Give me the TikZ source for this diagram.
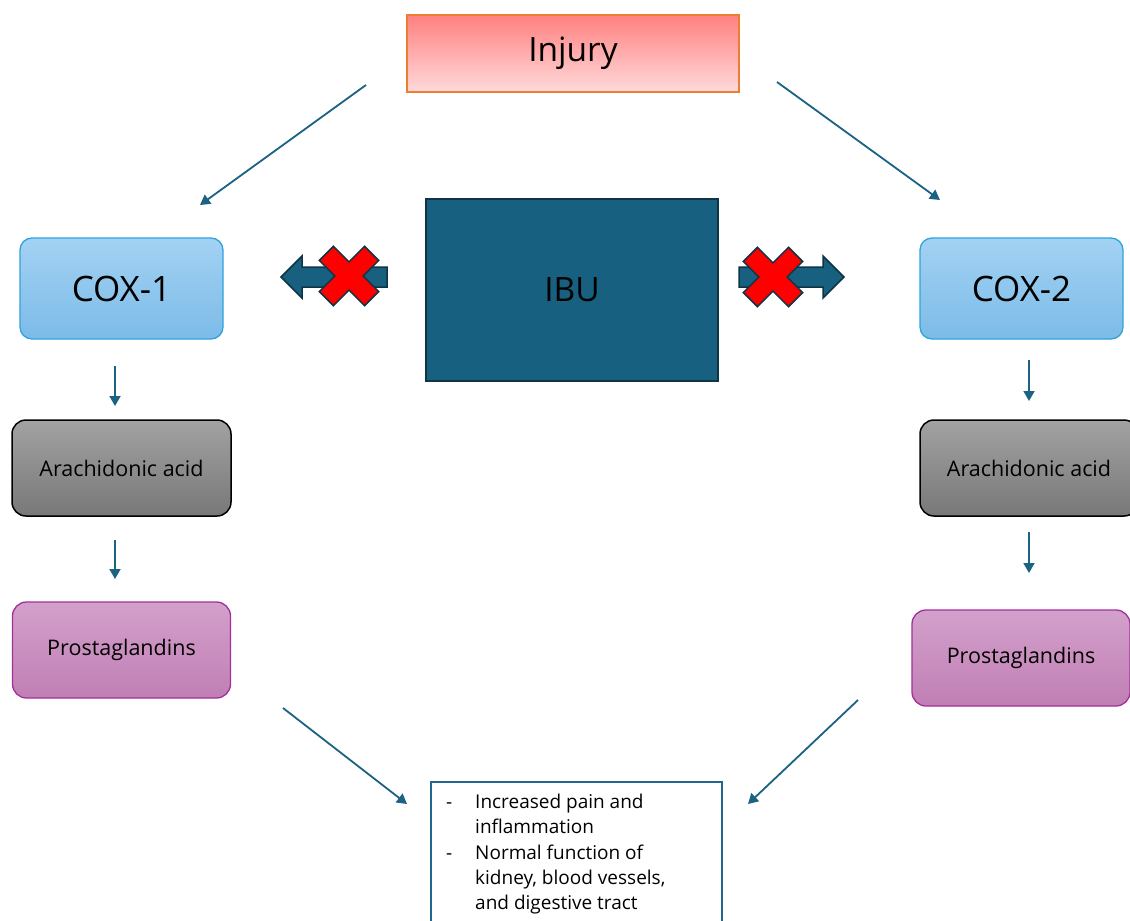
\documentclass[tikz,border=0pt]{standalone}
\usepackage{fontspec}
\setmainfont{Open Sans}
\usetikzlibrary{arrows.meta}
\definecolor{arrowc}{HTML}{1B6283}
\definecolor{ibufill}{HTML}{18607F}
\definecolor{ibuline}{HTML}{0E3446}
\definecolor{injtop}{HTML}{FF8080}
\definecolor{injbot}{HTML}{FFDADA}
\definecolor{injline}{HTML}{ED7D31}
\definecolor{coxtop}{HTML}{A3D2F3}
\definecolor{coxbot}{HTML}{7CBBE8}
\definecolor{coxline}{HTML}{2FA4DC}
\definecolor{aatop}{HTML}{A2A2A2}
\definecolor{aabot}{HTML}{787878}
\definecolor{prtop}{HTML}{D3A0CB}
\definecolor{prbot}{HTML}{C07FB4}
\definecolor{prline}{HTML}{A3309A}
\definecolor{outline}{HTML}{1F6A8C}
\definecolor{xred}{HTML}{FF0000}
\tikzset{
  conn/.style={draw=arrowc, line width=1.8pt, -{Triangle[length=10pt,width=11pt]}},
  injbox/.style={draw=injline, line width=1.5pt, top color=injtop, bottom color=injbot, minimum width=332pt, minimum height=77pt, font=\fontsize{33.5}{40}\selectfont},
  ibubox/.style={draw=ibuline, line width=2pt, fill=ibufill, minimum width=292pt, minimum height=182pt, font=\fontsize{33.5}{40}\selectfont},
  coxbox/.style={draw=coxline, line width=1.3pt, rounded corners=12pt, top color=coxtop, bottom color=coxbot, minimum width=203pt, minimum height=101pt, font=\fontsize{35}{40}\selectfont},
  aabox/.style={draw=black, line width=1.5pt, rounded corners=14pt, top color=aatop, bottom color=aabot, minimum width=219pt, minimum height=96pt, font=\fontsize{21.5}{26}\selectfont},
  prbox/.style={draw=prline, line width=1.3pt, rounded corners=14pt, top color=prtop, bottom color=prbot, minimum width=218pt, minimum height=96pt, font=\fontsize{21.5}{26}\selectfont},
  outbox/.style={draw=outline, line width=2pt, fill=white, minimum width=291pt, minimum height=150pt},
  blockarrow/.style={fill=ibufill, draw=ibuline, line width=1.5pt, line join=miter},
  redx/.style={fill=xred, draw=ibuline, line width=1.5pt, line join=miter}
}
\begin{document}
\begin{tikzpicture}[x=1pt, y=-1pt]
\useasboundingbox (0,0) rectangle (1130,921);
\fill[white] (0,0) rectangle (1130,921);

\node[injbox] (injury) at (573,53.5) {Injury};
\node[ibubox] (ibu) at (572,290) {IBU};
\node[coxbox] (cox1) at (121.5,288.5) {COX-1};
\node[coxbox] (cox2) at (1021.5,288.5) {COX-2};
\node[aabox] (aa1) at (121.5,468) {Arachidonic acid};
\node[aabox, minimum width=218pt] (aa2) at (1029,468) {Arachidonic acid};
\node[prbox] (pr1) at (121.5,650) {Prostaglandins};
\node[prbox] (pr2) at (1021,658) {Prostaglandins};
\node[outbox, anchor=north] (out) at (576.5,781) {};
\node[anchor=north west, align=left, font=\fontsize{19}{25.3}\selectfont, inner sep=0pt] (outtext) at (446,790.5)
  {\begin{tabular}{@{}p{17pt}@{\hspace{12pt}}l@{}}
   - & Increased pain and\\
      & inflammation\\
   - & Normal function of\\
      & kidney, blood vessels,\\
      & and digestive tract
   \end{tabular}};

% connector end points
\coordinate (i1s) at (366,85);  \coordinate (i1e) at (200,205);
\coordinate (i2s) at (777,82);  \coordinate (i2e) at (940,200);
\coordinate (l1s) at (115,366); \coordinate (l1e) at (115,406);
\coordinate (l2s) at (115,540); \coordinate (l2e) at (115,579);
\coordinate (r1s) at (1029,360); \coordinate (r1e) at (1029,401);
\coordinate (r2s) at (1029,532); \coordinate (r2e) at (1029,573);
\coordinate (p1s) at (283,708); \coordinate (p1e) at (407,804);
\coordinate (p2s) at (858,700); \coordinate (p2e) at (748,804);

\draw[conn] (i1s) -- (i1e);
\draw[conn] (i2s) -- (i2e);
\draw[conn] (l1s) -- (l1e);
\draw[conn] (l2s) -- (l2e);
\draw[conn] (r1s) -- (r1e);
\draw[conn] (r2s) -- (r2e);
\draw[conn] (p1s) -- (p1e);
\draw[conn] (p2s) -- (p2e);

% block arrows
\draw[blockarrow] (281,277) -- (302,256) -- (302,267) -- (387,267) -- (387,287) -- (302,287) -- (302,298) -- cycle;
\draw[blockarrow] (844,277) -- (823,256) -- (823,267) -- (739,267) -- (739,287) -- (823,287) -- (823,298) -- cycle;

% red crosses
\begin{scope}[shift={(349,276)}, rotate=45]
\draw[redx] (-10,-32) -- (10,-32) -- (10,-10) -- (32,-10) -- (32,10) -- (10,10) -- (10,32) -- (-10,32) -- (-10,10) -- (-32,10) -- (-32,-10) -- (-10,-10) -- cycle;
\end{scope}
\begin{scope}[shift={(773,277)}, rotate=45]
\draw[redx] (-10,-32) -- (10,-32) -- (10,-10) -- (32,-10) -- (32,10) -- (10,10) -- (10,32) -- (-10,32) -- (-10,10) -- (-32,10) -- (-32,-10) -- (-10,-10) -- cycle;
\end{scope}
\end{tikzpicture}
\end{document}
